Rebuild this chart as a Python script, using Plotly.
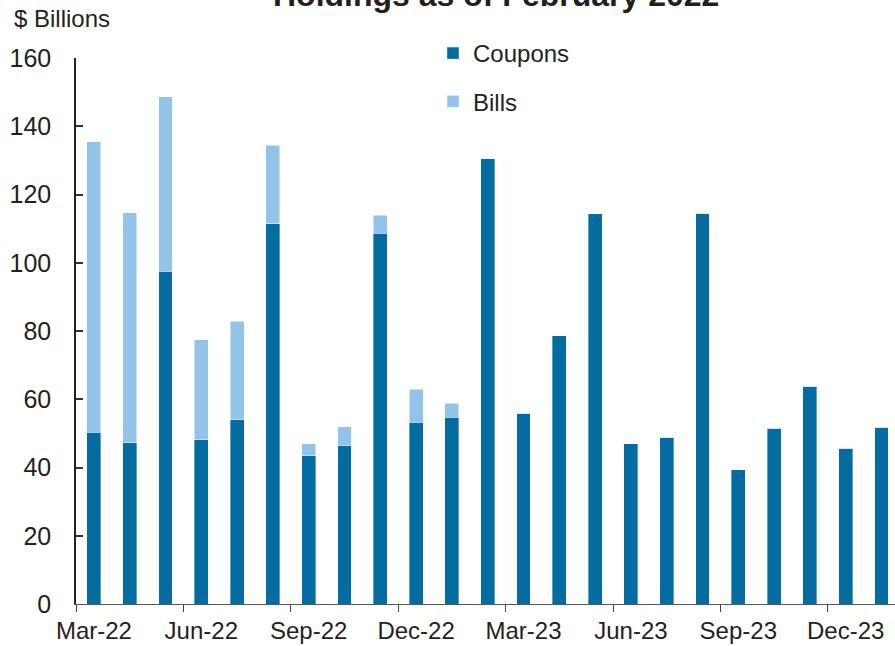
import plotly.graph_objects as go

months = ["Mar-22", "Apr-22", "May-22", "Jun-22", "Jul-22", "Aug-22", "Sep-22", "Oct-22",
          "Nov-22", "Dec-22", "Jan-23", "Feb-23", "Mar-23", "Apr-23", "May-23", "Jun-23",
          "Jul-23", "Aug-23", "Sep-23", "Oct-23", "Nov-23", "Dec-23", "Jan-24"]
coupons = [50.3, 47.3, 97.5, 48.1, 54.0, 111.4, 43.4, 46.4, 108.6, 53.3, 54.8, 130.5,
           55.9, 78.6, 114.3, 46.9, 48.9, 114.5, 39.4, 51.5, 63.8, 45.7, 51.8]
bills = [85.2, 67.4, 51.1, 29.3, 28.9, 23.1, 3.5, 5.6, 5.3, 9.6, 4.1, 0, 0, 0, 0, 0,
         0, 0, 0, 0, 0, 0, 0]
tick_labels = ["Mar-22", "Jun-22", "Sep-22", "Dec-22", "Mar-23", "Jun-23", "Sep-23", "Dec-23"]
y_ticks = [0, 20, 40, 60, 80, 100, 120, 140, 160]

DARK = "#046ca0"
LIGHT = "#92c4ea"
TXT = "#231f20"
FONT = "Liberation Sans, Arial, sans-serif"

xs = list(range(len(months)))
tick_pos = [months.index(m) for m in tick_labels]
boundaries = [p - 0.5 for p in tick_pos]

fig = go.Figure()
fig.add_bar(x=xs, y=coupons, name="Coupons", marker=dict(color=DARK, line=dict(color="rgba(255,255,255,0.45)", width=0.8)),
            width=0.39, legendgroup="c", customdata=months)
fig.add_bar(x=xs, y=bills, name="Bills", marker=dict(color=LIGHT, line=dict(color="rgba(255,255,255,0.6)", width=0.8)),
            width=0.39, legendgroup="b", customdata=months)

W, H = 895, 646
L, R, T, B = 76, 0, 58, 42
pw = W - L - R
ph = H - T - B

fig.update_layout(
    width=W, height=H,
    margin=dict(l=L, r=R, t=T, b=B),
    barmode="stack",
    plot_bgcolor="white", paper_bgcolor="white",
    font=dict(family=FONT, color=TXT),
    showlegend=True,
    legend=dict(
        x=(433 - L) / pw, xanchor="left",
        y=1 + (T - 31) / ph, yanchor="top",
        font=dict(size=24, color=TXT, family=FONT),
        traceorder="grouped", tracegroupgap=14,
        bgcolor="rgba(0,0,0,0)",
    ),
    xaxis=dict(
        range=[-0.5, -0.5 + 23 * pw / 823.4],
        tickmode="array", tickvals=tick_pos, ticktext=tick_labels,
        ticks="", showgrid=False, zeroline=False,
        showline=True, linecolor="#555555", linewidth=1.2,
        tickfont=dict(size=24, color=TXT, family=FONT),
        ticklabelstandoff=5,
        minor=dict(tickmode="array", tickvals=boundaries, ticks="outside",
                   ticklen=7, tickwidth=1.2, tickcolor="#444444", showgrid=False),
    ),
    yaxis=dict(
        range=[0, 160], tickmode="array", tickvals=y_ticks,
        ticks="inside", ticklen=7, tickwidth=1.5, tickcolor="#333333",
        showgrid=False, zeroline=False,
        showline=True, linecolor="#222222", linewidth=1.5,
        tickfont=dict(size=25, color=TXT, family=FONT),
        ticklabelstandoff=18,
    ),
    annotations=[
        dict(text="Holdings as of February 2022", xref="paper", yref="paper",
             x=(496 - L) / pw, y=1 + (T + 5) / ph, xanchor="center", yanchor="middle",
             showarrow=False, font=dict(size=32, color=TXT, family=FONT, weight="bold")),
        dict(text="$ Billions", xref="paper", yref="paper",
             x=(12 - L) / pw, y=1 + (T - 18) / ph, xanchor="left", yanchor="middle",
             showarrow=False, font=dict(size=24, color=TXT, family=FONT)),
    ],
)

fig.write_html("out.html", config={"displayModeBar": False},
               post_script="document.body.style.margin='0';document.body.style.overflow='hidden';")
